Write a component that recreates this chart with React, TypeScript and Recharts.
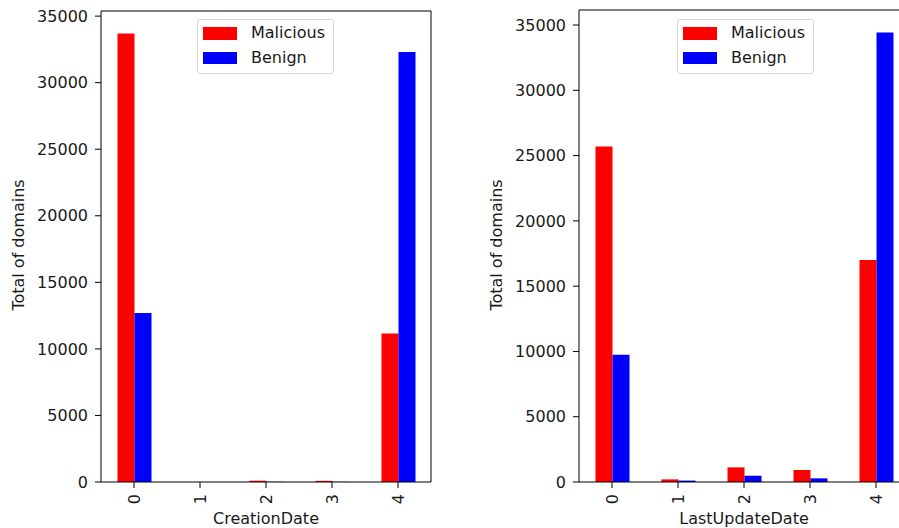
import React from 'react';
import { BarChart, Bar, XAxis, YAxis, CartesianGrid } from 'recharts';

const categories = ['0', '1', '2', '3', '4'];
const seriesNames = ['Malicious', 'Benign'];
const seriesColors = ['#ff0000', '#0000ff'];

const creationMalicious = [33700, 0, 100, 90, 11150];
const creationBenign = [12700, 0, 15, 10, 32300];

const updateMalicious = [25700, 200, 1120, 920, 17000];
const updateBenign = [9750, 110, 480, 280, 34430];

const yTicks = [0, 5000, 10000, 15000, 20000, 25000, 30000, 35000];

const FONT = '"DejaVu Sans", sans-serif';
const TEXT = '#1a1a1a';

const buildRows = (mal: number[], ben: number[]) =>
  categories.map((cat, i) => ({ cat, malicious: mal[i], benign: ben[i] }));

const RotatedTick = (props: any) => {
  const { x, y, payload } = props;
  return (
    <g transform={`translate(${x},${y}) rotate(-90)`}>
      <text textAnchor="end" dy="0.36em" fontSize={16} fontFamily={FONT} fill={TEXT}>
        {payload.value}
      </text>
    </g>
  );
};

const YLabel = () => (
  <text
    transform="translate(18,245) rotate(-90)"
    textAnchor="middle"
    dy="0.36em"
    fontSize={16}
    fontFamily={FONT}
    fill={TEXT}
  >
    Total of domains
  </text>
);

interface PanelProps {
  rows: { cat: string; malicious: number; benign: number }[];
  yMax: number;
  top: number;
  xLabel: string;
}

const Panel: React.FC<PanelProps> = ({ rows, yMax, top, xLabel }) => (
  <BarChart
    width={440}
    height={528}
    data={rows}
    margin={{ top, right: 9, bottom: 0, left: 41 }}
    barCategoryGap="25%"
    barGap={0}
  >
    {/* top and right spines of the frame */}
    <CartesianGrid
      stroke="#000"
      horizontalCoordinatesGenerator={({ offset }: any) => [offset.top]}
      verticalCoordinatesGenerator={({ offset }: any) => [offset.left + offset.width]}
    />
    <XAxis
      dataKey="cat"
      height={46}
      tickSize={6}
      tickMargin={6}
      tick={<RotatedTick />}
      tickLine={{ stroke: '#000' }}
      axisLine={{ stroke: '#000' }}
      label={{
        value: xLabel,
        position: 'insideBottom',
        offset: 4,
        fontSize: 16,
        fontFamily: FONT,
        fill: TEXT,
      }}
    />
    <YAxis
      width={60}
      domain={[0, yMax]}
      ticks={yTicks}
      allowDataOverflow
      tickSize={6}
      tickMargin={7}
      tick={{ fontSize: 16, fontFamily: FONT, fill: TEXT }}
      tickLine={{ stroke: '#000' }}
      axisLine={{ stroke: '#000' }}
      label={{ content: () => <YLabel /> }}
    />
    <Bar dataKey="malicious" name={seriesNames[0]} fill={seriesColors[0]} isAnimationActive={false} />
    <Bar dataKey="benign" name={seriesNames[1]} fill={seriesColors[1]} isAnimationActive={false} />
  </BarChart>
);

const LegendBox: React.FC<{ left: number; top: number }> = ({ left, top }) => (
  <div
    style={{
      position: 'absolute',
      left,
      top,
      width: 137,
      height: 55,
      boxSizing: 'border-box',
      border: '1px solid #d6d6d6',
      borderRadius: 3,
      background: 'rgba(255,255,255,0.85)',
      fontFamily: FONT,
      fontSize: 16,
      color: TEXT,
    }}
  >
    {seriesNames.map((name, i) => (
      <div key={name}>
        <div
          style={{
            position: 'absolute',
            left: 5,
            top: 7 + i * 24.5,
            width: 34,
            height: 12.5,
            background: seriesColors[i],
          }}
        />
        <div
          style={{
            position: 'absolute',
            left: 53,
            top: 3 + i * 24.5,
            lineHeight: '20px',
            whiteSpace: 'nowrap',
          }}
        >
          {name}
        </div>
      </div>
    ))}
  </div>
);

export default function App() {
  return (
    <div
      style={{
        position: 'absolute',
        left: 0,
        top: 0,
        width: 899,
        height: 528,
        overflow: 'hidden',
        background: '#fff',
      }}
    >
      <div style={{ position: 'absolute', left: 0, top: 0 }}>
        <Panel rows={buildRows(creationMalicious, creationBenign)} yMax={35385} top={11} xLabel="CreationDate" />
      </div>
      <div style={{ position: 'absolute', left: 478, top: 0 }}>
        <Panel rows={buildRows(updateMalicious, updateBenign)} yMax={36150} top={10} xLabel="LastUpdateDate" />
      </div>
      <LegendBox left={197} top={19} />
      <LegendBox left={677} top={19} />
    </div>
  );
}
